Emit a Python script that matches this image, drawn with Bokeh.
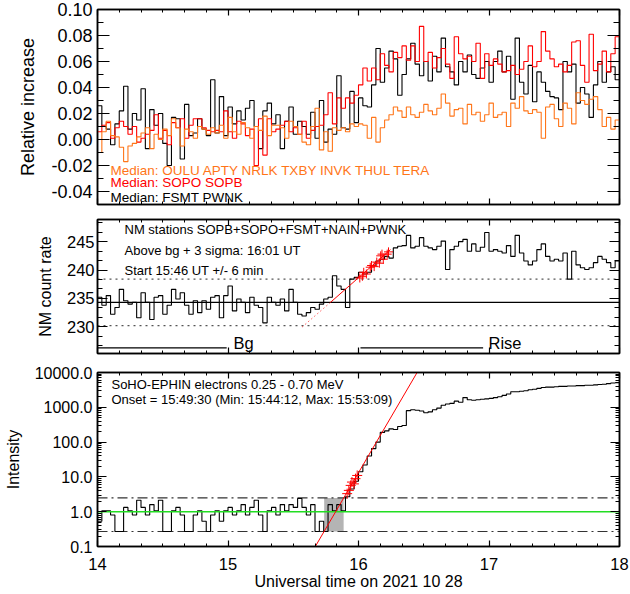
import numpy as np
from bokeh.plotting import figure
from bokeh.layouts import column
from bokeh.models import (LinearAxis, LogAxis, SingleIntervalTicker, LogTicker,
                          NumeralTickFormatter, Label, Range1d)
from bokeh.embed import file_html
from bokeh.resources import INLINE

FONT = "Liberation Sans"
ORANGE = "#ff7518"
RED = "#ff0000"
GREEN = "#22dd22"

# ---------------- data (2-min bins starting 14:00 UT) ----------------
bin_start = 14.0
bin_hours = 2.0 / 60.0

rel_fsmt_pwnk = [
    0.026, 0.010, 0.008, -0.004, 0.012, 0.022, 0.041, 0.008, 0.020, 0.015,
    0.039, -0.007, 0.023, 0.011, 0.020, -0.003, -0.020, 0.017, 0.016, -0.015,
    0.027, 0.003, 0.005, 0.016, 0.008, 0.003, 0.046, 0.005, 0.033, 0.003,
    0.025, 0.012, 0.022, 0.015, 0.024, 0.030, 0.010, -0.007, 0.022, 0.028,
    0.012, 0.019, -0.007, 0.014, 0.025, 0.004, 0.014, 0.010, 0.004, 0.021,
    0.001, 0.030, -0.002, 0.008, 0.004, 0.049, 0.009, 0.008, 0.037, 0.013,
    0.032, 0.026, 0.025, 0.042, 0.070, 0.044, 0.055, 0.068, 0.062, 0.034,
    0.050, 0.062, 0.074, 0.058, 0.049, 0.060, 0.045, 0.064, 0.052, 0.078,
    0.056, 0.052, 0.042, 0.060, 0.052, 0.065, 0.050, 0.047, 0.055, 0.060,
    0.044, 0.060, 0.068, 0.052, 0.064, 0.031, 0.078, 0.044, 0.035, 0.057,
    0.029, 0.052, 0.044, 0.037, 0.033, 0.032, 0.023, 0.060, 0.052, 0.058,
    0.028, 0.040, 0.035, 0.017, 0.042, 0.060, 0.044, 0.052, 0.056, 0.046,
]

rel_sopo_sopb = [
    0.006, 0.011, 0.013, 0.001, 0.009, 0.014, 0.010, 0.004, 0.010, -0.002,
    0.001, 0.004, 0.007, 0.019, 0.001, 0.007, -0.004, 0.013, 0.009, 0.016,
    0.001, 0.011, 0.016, 0.016, 0.009, 0.007, 0.006, 0.007, 0.006, 0.022,
    0.006, 0.001, 0.014, 0.012, 0.003, 0.008, -0.020, 0.016, -0.012, 0.016,
    0.006, 0.008, 0.011, 0.014, 0.006, 0.009, 0.004, 0.014, 0.001, 0.007,
    0.010, 0.011, 0.019, 0.036, 0.012, 0.032, 0.024, 0.032, 0.028, 0.034,
    0.042, 0.055, 0.045, 0.055, 0.046, 0.066, 0.057, 0.052, 0.067, 0.063,
    0.072, 0.061, 0.072, 0.060, 0.087, 0.060, 0.067, 0.055, 0.063, 0.070,
    0.058, 0.047, 0.079, 0.066, 0.062, 0.064, 0.060, 0.074, 0.047, 0.066,
    0.057, 0.062, 0.058, 0.052, 0.053, 0.057, 0.050, 0.054, 0.060, 0.072,
    0.056, 0.060, 0.083, 0.068, 0.062, 0.056, 0.058, 0.052, 0.057, 0.075,
    0.076, 0.057, 0.044, 0.081, 0.053, 0.058, 0.068, 0.052, 0.066, 0.079,
]

rel_polar = [
    -0.010, 0.006, 0.014, 0.003, 0.002, -0.006, -0.017, -0.005, -0.003, 0.002,
    0.005, 0.009, -0.007, 0.004, 0.000, 0.008, 0.003, 0.016, 0.009, -0.005,
    0.008, 0.006, 0.001, 0.010, 0.008, 0.004, 0.009, 0.005, 0.011, 0.001,
    0.017, 0.006, 0.004, 0.013, 0.009, 0.001, 0.010, 0.007, 0.018, 0.003,
    0.011, 0.011, 0.009, 0.001, 0.014, 0.010, 0.004, -0.002, -0.004, 0.010,
    0.024, -0.008, 0.006, -0.009, 0.009, 0.007, 0.009, 0.006, 0.012, 0.010,
    0.012, 0.011, 0.001, 0.017, -0.002, 0.009, 0.015, 0.019, 0.025, 0.022,
    0.017, 0.025, 0.019, 0.017, 0.021, 0.027, 0.022, 0.019, 0.024, 0.035,
    0.028, 0.018, 0.023, 0.024, 0.012, 0.027, 0.019, 0.021, 0.014, 0.019,
    0.028, 0.017, 0.019, 0.021, 0.010, 0.028, 0.024, 0.033, 0.022, 0.020,
    0.023, 0.021, 0.001, 0.025, 0.027, 0.016, 0.010, 0.028, 0.024, 0.012,
    0.036, 0.030, 0.027, 0.031, 0.033, 0.023, 0.010, 0.017, 0.008, 0.015,
]

nm_rate = [
    235.2, 233.8, 235.5, 232.2, 233.4, 236.6, 234.6, 234.0, 234.3, 231.6,
    236.0, 234.3, 231.3, 235.2, 235.5, 232.2, 233.8, 236.6, 234.9, 236.0,
    233.8, 232.2, 234.6, 232.5, 234.6, 233.1, 235.2, 235.5, 231.6, 235.5,
    237.2, 232.8, 234.9, 234.3, 232.5, 235.2, 233.8, 233.4, 230.7, 235.2,
    234.3, 233.8, 234.9, 232.8, 236.6, 234.3, 232.2, 231.9, 232.5, 233.4,
    233.1, 234.0, 234.9, 235.2, 239.0, 237.2, 236.6, 233.4, 238.4, 238.7,
    239.6, 239.3, 239.6, 240.8, 241.6, 241.9, 242.4, 242.1, 243.9, 244.2,
    244.3, 246.1, 243.9, 244.2, 245.7, 244.2, 243.9, 243.6, 244.2, 245.1,
    240.1, 243.6, 244.2, 245.0, 245.4, 243.3, 244.6, 243.3, 244.0, 246.6,
    243.3, 243.6, 243.3, 243.0, 244.3, 242.4, 246.1, 243.0, 241.6, 240.9,
    241.6, 243.6, 244.6, 242.4, 241.6, 241.9, 241.6, 243.0, 238.4, 243.3,
    240.9, 240.4, 240.1, 240.4, 241.3, 242.4, 241.9, 241.3, 240.4, 241.6,
]

nm_bg_mean = 234.3
nm_bg_hi = 238.4
nm_bg_lo = 230.2
nm_fit_dot_t = [15.57, 15.785]
nm_fit_dot_v = [230.0, 234.3]
nm_fit_t = [15.785, 16.245]
nm_fit_v = [234.3, 243.6]
nm_cross_t = [16.01, 16.03, 16.04, 16.06, 16.09, 16.10, 16.12, 16.14, 16.16, 16.17, 16.18, 16.19, 16.22, 16.23]
nm_cross_v = [238.6, 238.9, 239.6, 239.3, 240.5, 240.8, 240.6, 241.4, 241.2, 242.5, 242.8, 241.9, 242.8, 243.2]
bg_interval = [14.0, 14.99]
rise_interval = [16.015, 16.955]
marker_level = 226.3

ephin = [
    0.53, 1.07, 1.07, 0.80, 0.27, 0.27, 1.33, 1.07, 0.80, 2.13,
    1.33, 0.80, 1.60, 1.07, 2.13, 0.27, 0.27, 1.07, 1.33, 0.80,
    0.27, 0.27, 0.80, 1.07, 0.53, 0.27, 0.80, 1.07, 0.53, 1.07,
    1.33, 0.80, 1.07, 1.60, 0.80, 1.33, 2.13, 0.80, 0.27, 1.07,
    1.33, 0.80, 1.60, 1.07, 1.60, 1.33, 2.40, 1.33, 0.80, 1.60,
    0.27, 0.53, 0.27, 1.60, 1.07, 1.60, 1.07, 2.70, 4.5, 7.5,
    14, 22, 40, 65, 100, 190, 210, 240, 230, 280,
    300, 800, 850, 820, 780, 700, 740, 850, 950, 1150,
    1250, 1300, 1500, 1400, 1900, 1650, 1600, 1650, 1700, 1750,
    1800, 1900, 2000, 2200, 2400, 2800, 2800, 2900, 3000, 3200,
    3300, 3500, 3700, 3800, 3800, 3900, 4000, 4000, 4100, 4100,
    4200, 4200, 4300, 4300, 4400, 4500, 4600, 4800, 5000, 5100,
]
ephin_bg = 1.0
ephin_hi = 2.48
ephin_lo = 0.27
onset_window = [15.737, 15.886]
ephin_fit_t = [15.669, 16.449]
ephin_fit_i = [0.1, 10000.0]
ephin_cross_t = [15.913, 15.926, 15.94, 15.95, 15.965, 15.977, 15.99]
ephin_cross_i = [3.3, 4.1, 5.7, 7.1, 6.3, 8.9, 11.0]

t_edges = bin_start + np.arange(len(nm_rate) + 1) * bin_hours


def stepy(v):
    return list(v) + [v[-1]]


def base_fig(height, y_range, top, bottom, y_type="linear"):
    p = figure(width=630, height=height, x_range=Range1d(14, 18), y_range=y_range,
               y_axis_type=y_type, output_backend="svg", toolbar_location=None,
               min_border_left=97, min_border_right=11, min_border_top=top,
               min_border_bottom=bottom)
    p.xgrid.visible = False
    p.ygrid.visible = False
    p.outline_line_color = "black"
    p.outline_line_width = 1.5
    p.background_fill_color = "white"
    p.border_fill_color = "white"
    return p


def style_axis(ax, tin, tmin, label_size=None, standoff=5):
    ax.major_tick_in = tin
    ax.major_tick_out = 0
    ax.minor_tick_in = tmin
    ax.minor_tick_out = 0
    ax.axis_line_color = "black"
    ax.axis_line_width = 1.5
    ax.major_tick_line_color = "black"
    ax.minor_tick_line_color = "black"
    ax.major_tick_line_width = 1.2
    ax.minor_tick_line_width = 1.0
    if label_size is None:
        # tick-only frame axis: labels are not painted
        ax.major_label_text_font_size = "1px"
        ax.major_label_text_color = None
        ax.major_label_standoff = 0
    else:
        ax.major_label_text_font_size = label_size
        ax.major_label_text_font = FONT
        ax.major_label_text_color = "black"
        ax.major_label_standoff = standoff
        ax.axis_label_text_font = FONT
        ax.axis_label_text_font_style = "normal"
        ax.axis_label_text_color = "black"


def xticker():
    return SingleIntervalTicker(interval=1, num_minor_ticks=6)


def add_frame_axes(p, yticker_fn, ytin, ytmin, log=False):
    top_ax = LinearAxis(ticker=xticker())
    style_axis(top_ax, 6, 3)
    p.add_layout(top_ax, "above")
    right_ax = LogAxis(ticker=yticker_fn()) if log else LinearAxis(ticker=yticker_fn())
    style_axis(right_ax, ytin, ytmin)
    p.add_layout(right_ax, "right")


# ---------------- panel 1 ----------------
p1 = base_fig(211, Range1d(-0.05, 0.10), 9, 7)
p1.xaxis.ticker = xticker()
style_axis(p1.xaxis[0], 6, 3)
p1.yaxis.ticker = SingleIntervalTicker(interval=0.02, num_minor_ticks=2)
p1.yaxis.formatter = NumeralTickFormatter(format="0.00")
style_axis(p1.yaxis[0], 12, 6, "18px", 5)
p1.yaxis.axis_label = "Relative increase"
p1.yaxis.axis_label_text_font_size = "18px"
p1.yaxis.axis_label_standoff = 10
add_frame_axes(p1, lambda: SingleIntervalTicker(interval=0.02, num_minor_ticks=2), 12, 6)

p1.step(t_edges, stepy(rel_fsmt_pwnk), mode="after", line_color="black", line_width=1.1)
p1.step(t_edges, stepy(rel_sopo_sopb), mode="after", line_color=RED, line_width=1.1)
p1.step(t_edges, stepy(rel_polar), mode="after", line_color=ORANGE, line_width=1.1)

for txt, yv, col in [("Median: OULU APTY NRLK TXBY INVK THUL TERA", -0.0236, ORANGE),
                     ("Median: SOPO SOPB", -0.0333, RED),
                     ("Median: FSMT PWNK", -0.0448, "black")]:
    p1.add_layout(Label(x=14.1, y=yv, text=txt, text_color=col, text_font=FONT,
                        text_font_size="13.5px", text_baseline="middle"))

# ---------------- panel 2 ----------------
p2 = base_fig(153, Range1d(225.3, 248.9), 8, 11)
p2.xaxis.ticker = xticker()
style_axis(p2.xaxis[0], 6, 3)
p2.yaxis.ticker = SingleIntervalTicker(interval=5, num_minor_ticks=3)
style_axis(p2.yaxis[0], 10, 5, "16.5px", 3)
p2.yaxis.axis_label = "NM count rate"
p2.yaxis.axis_label_text_font_size = "16px"
p2.yaxis.axis_label_standoff = 10
add_frame_axes(p2, lambda: SingleIntervalTicker(interval=5, num_minor_ticks=3), 10, 5)

p2.line([14, 18], [nm_bg_hi, nm_bg_hi], line_color="#555555", line_width=1.3, line_dash="2 4")
p2.line([14, 18], [nm_bg_lo, nm_bg_lo], line_color="#555555", line_width=1.3, line_dash="2 4")
p2.line([14, 18], [nm_bg_mean, nm_bg_mean], line_color="black", line_width=1.2)
p2.step(t_edges, stepy(nm_rate), mode="after", line_color="black", line_width=1.1)
p2.line(nm_fit_dot_t, nm_fit_dot_v, line_color=RED, line_width=1, line_dash="1 3")
p2.line(nm_fit_t, nm_fit_v, line_color=RED, line_width=1)
p2.scatter(nm_cross_t, nm_cross_v, marker="cross", size=9, line_color=RED, line_width=1)
p2.line(bg_interval, [marker_level, marker_level], line_color="black", line_width=1.3)
p2.line(rise_interval, [marker_level, marker_level], line_color="black", line_width=1.3)
p2.add_layout(Label(x=15.042, y=227.1, text="Bg", text_font=FONT, text_font_size="16.5px",
                    text_baseline="middle", text_color="black"))
p2.add_layout(Label(x=16.996, y=227.1, text="Rise", text_font=FONT, text_font_size="16.5px",
                    text_baseline="middle", text_color="black"))
for txt, yv in [("NM stations SOPB+SOPO+FSMT+NAIN+PWNK", 247.2),
                ("Above bg + 3 sigma: 16:01 UT", 243.5),
                ("Start 15:46 UT +/- 6 min", 239.9)]:
    p2.add_layout(Label(x=14.207, y=yv, text=txt, text_font=FONT, text_font_size="13px",
                        text_baseline="middle", text_color="black"))

# ---------------- panel 3 ----------------
p3 = base_fig(230, Range1d(0.1, 10000), 8, 48, y_type="log")
p3.xaxis.ticker = xticker()
style_axis(p3.xaxis[0], 6, 3, "16.5px", 11)
p3.xaxis.axis_label = "Universal time on 2021 10 28"
p3.xaxis.axis_label_text_font_size = "16px"
p3.xaxis.axis_label_standoff = 0
p3.yaxis.ticker = LogTicker(num_minor_ticks=10)
p3.yaxis.formatter = NumeralTickFormatter(format="0.0")
style_axis(p3.yaxis[0], 9, 4, "16px", 5)
p3.yaxis.axis_label = "Intensity"
p3.yaxis.axis_label_text_font_size = "16px"
p3.yaxis.axis_label_standoff = 10
add_frame_axes(p3, lambda: LogTicker(num_minor_ticks=10), 9, 4, log=True)

p3.quad(left=[onset_window[0]], right=[onset_window[1]], bottom=[ephin_lo], top=[ephin_hi],
        fill_color="#b4b4b4", line_color=None)
p3.line([14, 18], [ephin_hi, ephin_hi], line_color="#333333", line_width=1.2, line_dash="10 4 2 4")
p3.line([14, 18], [ephin_lo, ephin_lo], line_color="#333333", line_width=1.2, line_dash="10 4 2 4")
p3.step(t_edges, stepy(ephin), mode="after", line_color="black", line_width=1.1)
p3.line([14, 18], [ephin_bg, ephin_bg], line_color=GREEN, line_width=1.5)
p3.line(ephin_fit_t, ephin_fit_i, line_color=RED, line_width=1)
p3.scatter(ephin_cross_t, ephin_cross_i, marker="cross", size=10, line_color=RED, line_width=1)
p3.add_layout(Label(x=14.107, y=4520, text="SoHO-EPHIN electrons 0.25 - 0.70 MeV", text_font=FONT,
                    text_font_size="13px", text_baseline="middle", text_color="black"))
p3.add_layout(Label(x=14.107, y=1675, text="Onset = 15:49:30 (Min: 15:44:12, Max: 15:53:09)",
                    text_font=FONT, text_font_size="13px", text_baseline="middle", text_color="black"))

layout = column(p1, p2, p3, spacing=0)
open("out.html", "w").write(file_html(layout, INLINE))
